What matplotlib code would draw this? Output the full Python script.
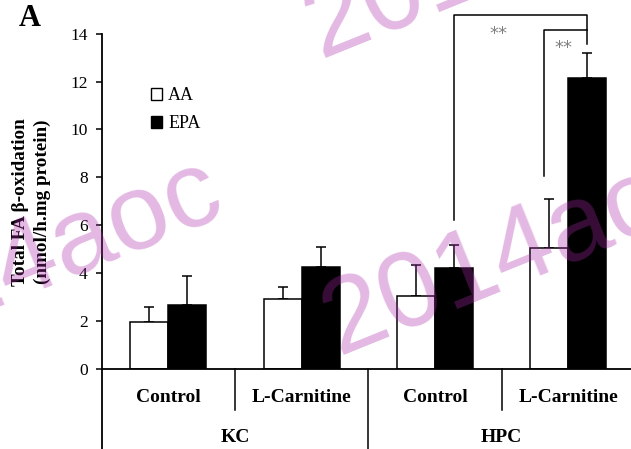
import matplotlib
matplotlib.use("Agg")
import matplotlib.pyplot as plt
from matplotlib.patches import Patch
import numpy as np

# ---- data ----
treatments = ["Control", "L-Carnitine", "Control", "L-Carnitine"]
groups = ["KC", "HPC"]
aa_mean = [1.96, 2.90, 3.04, 5.06]
aa_err = [0.60, 0.50, 1.29, 2.02]
epa_mean = [2.67, 4.25, 4.21, 12.13]
epa_err = [1.22, 0.83, 0.97, 1.05]
yticks = [0, 2, 4, 6, 8, 10, 12, 14]
sig_label = "**"

W, H = 631, 449
fig = plt.figure(figsize=(W / 100, H / 100), dpi=100)
ax = fig.add_axes([101.7 / W, 80.3 / H, 533.3 / W, 335.0 / H])

serif = "Liberation Serif"
x = np.arange(len(treatments))
bw = 0.285
lw = 1.1
ax.bar(x - bw / 2, aa_mean, bw, color="white", edgecolor="black", linewidth=lw, zorder=2)
ax.bar(x + bw / 2, epa_mean, bw, color="black", edgecolor="black", linewidth=lw, zorder=2)
for xs, m, e in [(x - bw / 2, aa_mean, aa_err), (x + bw / 2, epa_mean, epa_err)]:
    ax.errorbar(xs, m, yerr=[np.zeros(len(e)), e], fmt="none", ecolor="black",
                elinewidth=1.1, capsize=3.3, capthick=1.1, zorder=1)

ax.set_xlim(-0.5, 3.5)
ax.set_ylim(0, 14)
ax.set_yticks(yticks)
ax.set_yticklabels([str(t) for t in yticks], fontfamily=serif, fontsize=12.5)
ax.tick_params(axis="y", direction="out", length=4, width=1.1, pad=6)
ax.set_xticks([])
for s in ["top", "right"]:
    ax.spines[s].set_visible(False)
ax.spines["left"].set_linewidth(1.3)
ax.spines["bottom"].set_linewidth(1.3)

# separators below axis
ax.plot([-0.5, -0.5], [0, -3.5], color="black", lw=1.3, clip_on=False)
for xs, y1 in [(0.5, -1.72), (1.5, -3.5), (2.5, -1.72)]:
    ax.plot([xs, xs], [0, y1], color="black", lw=1.1, clip_on=False)

for xi, t in zip(x, treatments):
    ax.text(xi, -1.22, t, ha="center", va="center", fontfamily=serif,
            fontweight="bold", fontsize=14)
for xi, g in zip([0.5, 2.5], groups):
    ax.text(xi, -2.89, g, ha="center", va="center", fontfamily=serif,
            fontweight="bold", fontsize=14)

# significance brackets
ax.plot([2 + bw / 2, 2 + bw / 2, 3 + bw / 2, 3 + bw / 2], [6.2, 14.78, 14.78, 13.56],
        color="black", lw=1.1, clip_on=False)
ax.plot([2.82, 2.82, 3 + bw / 2], [8.04, 14.15, 14.15], color="black", lw=1.1, clip_on=False)
ax.text(2.476, 14.0, sig_label, ha="center", va="center", fontsize=13,
        color="#808080", clip_on=False)
ax.text(2.96, 13.42, sig_label, ha="center", va="center", fontsize=13,
        color="#808080", clip_on=False)

# legend
handles = [Patch(facecolor="white", edgecolor="black", linewidth=1.0, label="AA"),
           Patch(facecolor="black", edgecolor="black", linewidth=1.0, label="EPA")]
leg = ax.legend(handles=handles, loc="upper left", bbox_to_anchor=(0.092, 0.84),
                frameon=False, prop={"family": serif, "size": 13},
                handlelength=0.65, handleheight=0.65, handletextpad=0.32,
                labelspacing=0.6, borderaxespad=0, borderpad=0)

# y label (two lines)
fig.text(20.7 / W, 1 - 202 / H, "Total FA β-oxidation", rotation=90, ha="center",
         va="center", fontfamily=serif, fontweight="bold", fontsize=13.8)
fig.text(42.5 / W, 1 - 202 / H, "(nmol/h.mg protein)", rotation=90, ha="center",
         va="center", fontfamily=serif, fontweight="bold", fontsize=13.8)

# panel letter
fig.text(30 / W, 1 - 19 / H, "A", ha="center", va="center", fontfamily=serif,
         fontweight="bold", fontsize=22)

# watermark
wm_kw = dict(rotation=22, rotation_mode="anchor", ha="left", va="baseline",
             fontfamily="Liberation Sans", fontsize=78, color=(0.67, 0.16, 0.67),
             alpha=0.33, zorder=10)
for px, py in [(338, 355), (320, 58), (-158, 368)]:
    fig.text(px / W, 1 - py / H, "2014aoc", **wm_kw)

fig.savefig("out.png", dpi=100)
